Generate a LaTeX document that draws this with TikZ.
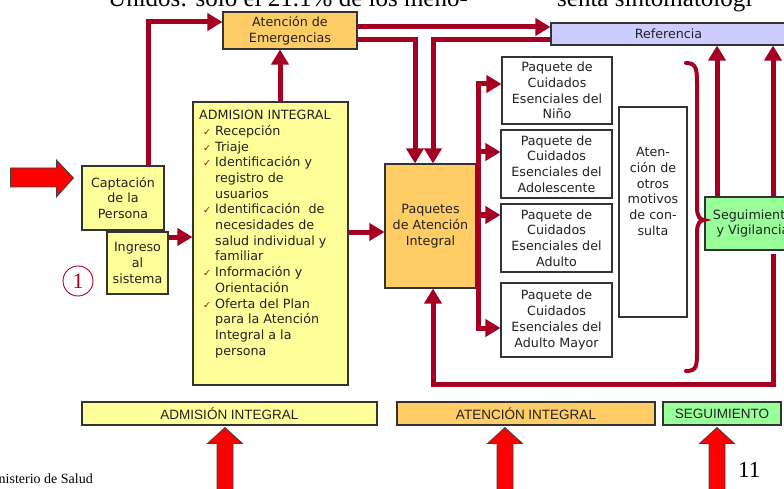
\documentclass[tikz,border=0pt]{standalone}
\usepackage{fontspec}
\setmainfont{DejaVu Sans}
\newfontfamily\serifx{Liberation Serif}
\newfontfamily\barfont{Liberation Sans}
\usetikzlibrary{arrows.meta,calc}
\definecolor{dred}{HTML}{A50021}
\definecolor{orangef}{HTML}{FFCC66}
\definecolor{yellowf}{HTML}{FFFF99}
\definecolor{lavf}{HTML}{CCCCFF}
\definecolor{greenf}{HTML}{99FF99}
\definecolor{bigred}{HTML}{FF0000}
\definecolor{txt}{HTML}{222222}
\newcommand\chk{\makebox[16pt][c]{\textcolor{dred}{\fontsize{9.5}{9.5}\selectfont ✓}}}
\newcommand\ind{\hspace*{16pt}}
\begin{document}
\begin{tikzpicture}[x=1pt,y=-1pt,
  box/.style={draw=black!80, line width=1.1pt, inner sep=0pt, align=center, text=txt,
    font=\fontsize{12.7}{15.7}\selectfont},
  bar/.style={draw=black!80, line width=1.1pt, inner sep=0pt, align=center, text=txt,
    font=\barfont\fontsize{13.5}{14}\selectfont, minimum height=23pt},
  conn/.style={draw=dred, line width=5pt, -{Triangle[length=15pt,width=17pt]}},
  bigarr/.style={fill=bigred, draw=black!75, line width=0.8pt},
  uparr/.pic={\filldraw[bigarr] (0,0) -- (17.5,16) -- (8,16) -- (8,75) -- (-8,75) -- (-8,16) -- (-17.5,16) -- cycle;},
  rightarr/.pic={\filldraw[bigarr] (0,0) -- (-17,-18) -- (-17,-10) -- (-63,-10) -- (-63,9) -- (-17,9) -- (-17,19) -- cycle;}
]
\fill[white] (0,0) rectangle (784,489);
\useasboundingbox (0,0) rectangle (784,489);

% cut-off header text
\node[anchor=base west, inner sep=0pt, font=\serifx\fontsize{25}{25}\selectfont] (top1) at (108,7) {Unidos: sólo el 21.1\% de los meno-};
\node[anchor=base west, inner sep=0pt, font=\serifx\fontsize{25}{25}\selectfont] (top2) at (557,7) {senta sintomatologí};

% boxes
\node[box, fill=orangef, minimum width=134pt, minimum height=37pt] (emerg) at (290,30.5) {Atención de\\Emergencias};
\node[box, fill=lavf, minimum width=235pt, minimum height=22pt] (ref) at (668.5,34) {Referencia};
\node[box, fill=yellowf, minimum width=82pt, minimum height=64pt] (capt) at (123,198) {Captación\\de la\\Persona};
\node[box, fill=yellowf, minimum width=61pt, minimum height=62pt] (ingreso) at (137.5,263) {Ingreso\\al\\sistema};
\node[box, fill=yellowf, minimum width=155pt, minimum height=283pt] (adm) at (270.5,243.5) {};
\node[anchor=north west, inner sep=0pt, align=left, text=txt, font=\fontsize{12.7}{15.7}\selectfont] (admtext) at (199,110)
 {ADMISION INTEGRAL\\
  \chk Recepción\\
  \chk Triaje\\
  \chk Identificación y\\
  \ind registro de\\
  \ind usuarios\\
  \chk Identificación~ de\\
  \ind necesidades de\\
  \ind salud individual y\\
  \ind familiar\\
  \chk Información y\\
  \ind Orientación\\
  \chk Oferta del Plan\\
  \ind para la Atención\\
  \ind Integral a la\\
  \ind persona};
\node[box, fill=orangef, minimum width=91pt, minimum height=124pt] (paq) at (430.5,226) {Paquetes\\de Atención\\Integral};
\node[box, fill=white, minimum width=110pt, minimum height=67pt] (nino) at (557,90.5) {Paquete de\\Cuidados\\Esenciales del\\Niño};
\node[box, fill=white, minimum width=111pt, minimum height=68pt] (adol) at (556.5,164) {Paquete de\\Cuidados\\Esenciales del\\Adolescente};
\node[box, fill=white, minimum width=111pt, minimum height=68pt] (adulto) at (556.5,238) {Paquete de\\Cuidados\\Esenciales del\\Adulto};
\node[box, fill=white, minimum width=111pt, minimum height=74pt] (mayor) at (556.5,320) {Paquete de\\Cuidados\\Esenciales del\\Adulto Mayor};
\node[box, fill=white, minimum width=68pt, minimum height=210pt] (otros) at (653,212) {};
\node[inner sep=0pt, align=center, text=txt, font=\fontsize{12.7}{15.7}\selectfont] (otrostext) at (653,191.5) {Aten-\\ción de\\otros\\motivos\\de con-\\sulta};
\node[box, fill=greenf, minimum width=96pt, minimum height=53pt] (seg) at (753,223.5) {Seguimiento\\y Vigilancia};

% brace
\draw[dred, line width=4pt, line cap=round] (686,63) .. controls (697,63) and (697,70) .. (697,85) -- (697,208)
  .. controls (697,216) and (700,220) .. (704,220) .. controls (700,220) and (697,224) .. (697,232)
  -- (697,350) .. controls (697,366) and (697,371) .. (686,371);

% bottom bars
\node[bar, fill=yellowf, minimum width=295pt] (badm) at (229.5,413.5) {ADMISIÓN INTEGRAL};
\node[bar, fill=orangef, minimum width=258pt] (batn) at (526,413.5) {ATENCIÓN INTEGRAL};
\node[bar, fill=greenf, minimum width=118pt] (bseg) at (722,413.5) {SEGUIMIENTO};

% connectors
\draw[conn] ($(capt.north)+(25,0)$) |- ($(emerg.west)+(0,-8.5)$);
\draw[conn] ($(adm.north)+(9.5,0)$) coordinate (a2) -- (a2 |- emerg.south);
\draw[conn] ($(ingreso.east)+(0,-26)$) coordinate (a3) -- (a3 -| adm.west);
\draw[conn] ($(adm.east)+(0,-11.5)$) coordinate (a4) -- (a4 -| paq.west);
\draw[conn] ($(emerg.east)+(0,-3.5)$) coordinate (a5) -- (a5 -| ref.west);
\draw[conn] ($(emerg.east)+(0,9.5)$) -| ($(paq.north)+(-15.5,0)$);
\draw[conn] ($(ref.west)+(0,6)$) -| ($(paq.north)+(2.5,0)$);
\draw[conn] ($(mayor.west)+(-22,8)$) |- ($(nino.west)+(0,-6.5)$);
\draw[conn] ($(nino.west)+(-23,-6.5)$) |- ($(mayor.west)+(0,8)$);
\draw[conn] ($(adol.west)+(-22,-12)$) -- ($(adol.west)+(0,-12)$);
\draw[conn] ($(adulto.west)+(-22,-23)$) -- ($(adulto.west)+(0,-23)$);
\draw[conn] ($(seg.north)+(-36,0)$) coordinate (s1) -- (s1 |- ref.south);
\draw[conn] ($(seg.north)+(20,0)$) coordinate (s2) -- (s2 |- ref.south);
\draw[conn] ($(seg.south)+(20,3)$) |- ($(paq.south)+(2.5,96)$) -- ($(paq.south)+(2.5,0)$);

% big red arrows
\pic at ($(capt.west)+(-8,-20)$) {rightarr};
\pic at ($(badm.south)+(-4.5,2)$) {uparr};
\pic at ($(batn.south)+(-21,2)$) {uparr};
\pic at ($(bseg.south)+(-5,2)$) {uparr};

% circled number
\node[circle, draw=dred, line width=0.9pt, minimum size=30pt, inner sep=0pt, text=dred,
  font=\serifx\fontsize{22}{22}\selectfont] (one) at (78,281) {1};

% footer
\node[anchor=base east, inner sep=0pt, font=\serifx\fontsize{14}{14}\selectfont] (minis) at (93,483) {Ministerio de Salud};
\node[anchor=base west, inner sep=0pt, font=\serifx\fontsize{23}{23}\selectfont] (pg) at (738,477) {11};
\end{tikzpicture}
\end{document}
